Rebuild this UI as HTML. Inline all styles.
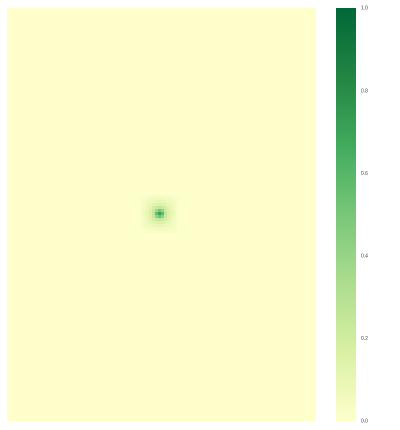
<!DOCTYPE html>
<html><head><meta charset="utf-8"><style>
html,body{margin:0;padding:0;background:#fff;width:400px;height:430px;overflow:hidden}
svg text{font-family:"Liberation Sans",sans-serif;font-size:5px;fill:#444}
</style></head><body>
<svg id="chart" width="400" height="430">
<defs><linearGradient id="cg" x1="0" y1="1" x2="0" y2="0">
<stop offset="0" stop-color="#ffffcc"/><stop offset="0.1667" stop-color="#d9f0a3"/><stop offset="0.3333" stop-color="#addd8e"/><stop offset="0.5" stop-color="#78c679"/><stop offset="0.6667" stop-color="#41ab5d"/><stop offset="0.8333" stop-color="#238443"/><stop offset="1" stop-color="#006837"/>
</linearGradient></defs>
<rect x="7" y="8" width="309" height="413" fill="#ffffcc"/>
<g id="cells"></g>
<rect x="336" y="8" width="20" height="413" fill="url(#cg)"/>
<g id="cbticks"></g>
</svg>
<script>
const colTicks=[0,0.2,0.4,0.6,0.8,1.0];
const tickLabels=["0.0","0.2","0.4","0.6","0.8","1.0"];
const blobValues=[
[0.01,0.02,0.02,0.03,0.03,0.03,0.03,0.03,0.03,0.03,0.02,0.02,0.01],
[0.02,0.03,0.04,0.05,0.05,0.06,0.06,0.06,0.05,0.05,0.04,0.03,0.02],
[0.02,0.04,0.06,0.07,0.08,0.09,0.10,0.09,0.08,0.07,0.06,0.04,0.02],
[0.03,0.05,0.07,0.09,0.12,0.14,0.15,0.14,0.12,0.09,0.07,0.05,0.03],
[0.03,0.05,0.08,0.12,0.18,0.22,0.25,0.22,0.18,0.12,0.08,0.05,0.03],
[0.03,0.06,0.09,0.14,0.22,0.38,0.50,0.40,0.22,0.14,0.09,0.06,0.03],
[0.03,0.06,0.10,0.15,0.25,0.55,0.70,0.58,0.25,0.15,0.10,0.06,0.03],
[0.03,0.06,0.09,0.14,0.22,0.40,0.52,0.42,0.22,0.14,0.09,0.06,0.03],
[0.03,0.05,0.08,0.12,0.18,0.22,0.25,0.22,0.18,0.12,0.08,0.05,0.03],
[0.03,0.05,0.07,0.09,0.12,0.14,0.15,0.14,0.12,0.09,0.07,0.05,0.03],
[0.02,0.04,0.06,0.07,0.08,0.09,0.10,0.09,0.08,0.07,0.06,0.04,0.02],
[0.02,0.03,0.04,0.05,0.05,0.06,0.06,0.06,0.05,0.05,0.04,0.03,0.02],
[0.01,0.02,0.02,0.03,0.03,0.03,0.03,0.03,0.03,0.03,0.02,0.02,0.01]];
const NS="http://www.w3.org/2000/svg";
const stops=["#ffffcc","#d9f0a3","#addd8e","#78c679","#41ab5d","#238443","#006837"];
function color(v){v=Math.max(0,Math.min(1,v));const n=stops.length-1;const t=v*n,i=Math.min(n-1,Math.floor(t)),f=t-i;
const a=stops[i],b=stops[i+1];const p=(s,k)=>parseInt(s.substr(1+2*k,2),16);
const c=[0,1,2].map(k=>Math.round(p(a,k)+(p(b,k)-p(a,k))*f));return `rgb(${c})`;}
const cell=3,x0=140,y0=194;
const xCell=j=>x0+j*cell, yCell=i=>y0+i*cell;
const g=document.getElementById('cells');
blobValues.forEach((row,i)=>row.forEach((v,j)=>{
const r=document.createElementNS(NS,'rect');
r.setAttribute('x',xCell(j));r.setAttribute('y',yCell(i));r.setAttribute('width',cell);r.setAttribute('height',cell);
r.setAttribute('fill',color(v));


g.appendChild(r);}));
const cbY=v=>421-v*413;
const tg=document.getElementById('cbticks');
colTicks.forEach((v,k)=>{
const t=document.createElementNS(NS,'text');
t.setAttribute('x',361);t.setAttribute('y',cbY(v)+1.7);t.textContent=tickLabels[k];


tg.appendChild(t);});
</script>
</body></html>
